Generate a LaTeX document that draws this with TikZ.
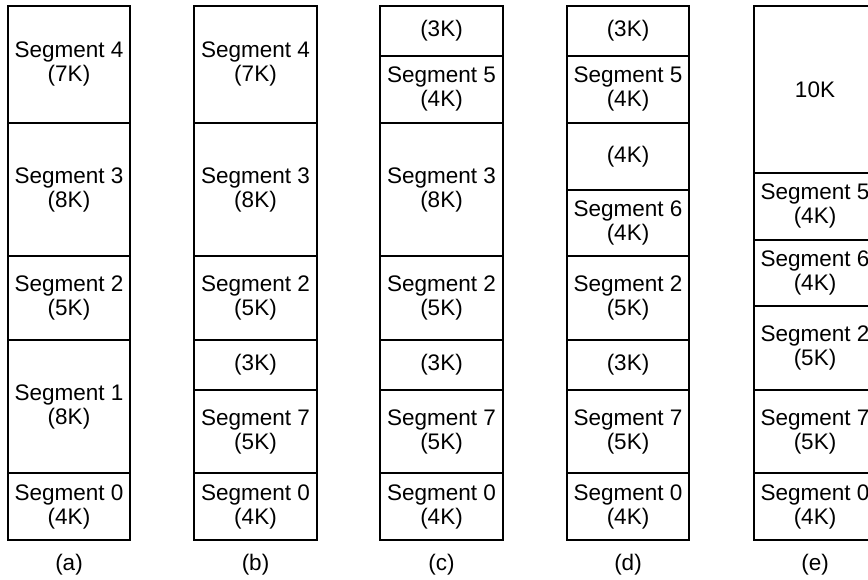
\documentclass[tikz,border=0pt]{standalone}
\usepackage{fontspec}
\setmainfont{Liberation Sans}
\begin{document}
\begin{tikzpicture}[x=1pt,y=-16.6875pt,
  seg/.style={draw=black,line width=1.9pt,minimum width=122.5pt,inner sep=0pt,align=center,
    minimum height=#1*16.6875pt,font=\fontsize{22.5}{24}\selectfont},
  caplabel/.style={font=\fontsize{22.5}{24}\selectfont,inner sep=0pt}]
\clip (0,0) rectangle (868,34.697);
\useasboundingbox (0,0) rectangle (868,34.697);
\begin{scope}[shift={(0,0.36)}]
% column a
\node[seg=7] (a4) at (69,3.5) {Segment 4\\(7K)};
\node[seg=8] (a3) at (69,11) {Segment 3\\(8K)};
\node[seg=5] (a2) at (69,17.5) {Segment 2\\(5K)};
\node[seg=8] (a1) at (69,24) {Segment 1\\(8K)};
\node[seg=4] (a0) at (69,30) {Segment 0\\(4K)};
% column b
\node[seg=7] (b4) at (255.5,3.5) {Segment 4\\(7K)};
\node[seg=8] (b3) at (255.5,11) {Segment 3\\(8K)};
\node[seg=5] (b2) at (255.5,17.5) {Segment 2\\(5K)};
\node[seg=3] (bh) at (255.5,21.5) {(3K)};
\node[seg=5] (b7) at (255.5,25.5) {Segment 7\\(5K)};
\node[seg=4] (b0) at (255.5,30) {Segment 0\\(4K)};
% column c
\node[seg=3] (ch1) at (441.5,1.5) {(3K)};
\node[seg=4] (c5) at (441.5,5) {Segment 5\\(4K)};
\node[seg=8] (c3) at (441.5,11) {Segment 3\\(8K)};
\node[seg=5] (c2) at (441.5,17.5) {Segment 2\\(5K)};
\node[seg=3] (ch2) at (441.5,21.5) {(3K)};
\node[seg=5] (c7) at (441.5,25.5) {Segment 7\\(5K)};
\node[seg=4] (c0) at (441.5,30) {Segment 0\\(4K)};
% column d
\node[seg=3] (dh1) at (628,1.5) {(3K)};
\node[seg=4] (d5) at (628,5) {Segment 5\\(4K)};
\node[seg=4] (dh2) at (628,9) {(4K)};
\node[seg=4] (d6) at (628,13) {Segment 6\\(4K)};
\node[seg=5] (d2) at (628,17.5) {Segment 2\\(5K)};
\node[seg=3] (dh3) at (628,21.5) {(3K)};
\node[seg=5] (d7) at (628,25.5) {Segment 7\\(5K)};
\node[seg=4] (d0) at (628,30) {Segment 0\\(4K)};
% column e
\node[seg=10] (eh) at (815,5) {10K};
\node[seg=4] (e5) at (815,12) {Segment 5\\(4K)};
\node[seg=4] (e6) at (815,16) {Segment 6\\(4K)};
\node[seg=5] (e2) at (815,20.5) {Segment 2\\(5K)};
\node[seg=5] (e7) at (815,25.5) {Segment 7\\(5K)};
\node[seg=4] (e0) at (815,30) {Segment 0\\(4K)};
\end{scope}
% captions
\node[caplabel] (la) at (69,33.86) {(a)};
\node[caplabel] (lb) at (255.5,33.86) {(b)};
\node[caplabel] (lc) at (441.5,33.86) {(c)};
\node[caplabel] (ld) at (628,33.86) {(d)};
\node[caplabel] (le) at (815,33.86) {(e)};
\end{tikzpicture}
\end{document}
